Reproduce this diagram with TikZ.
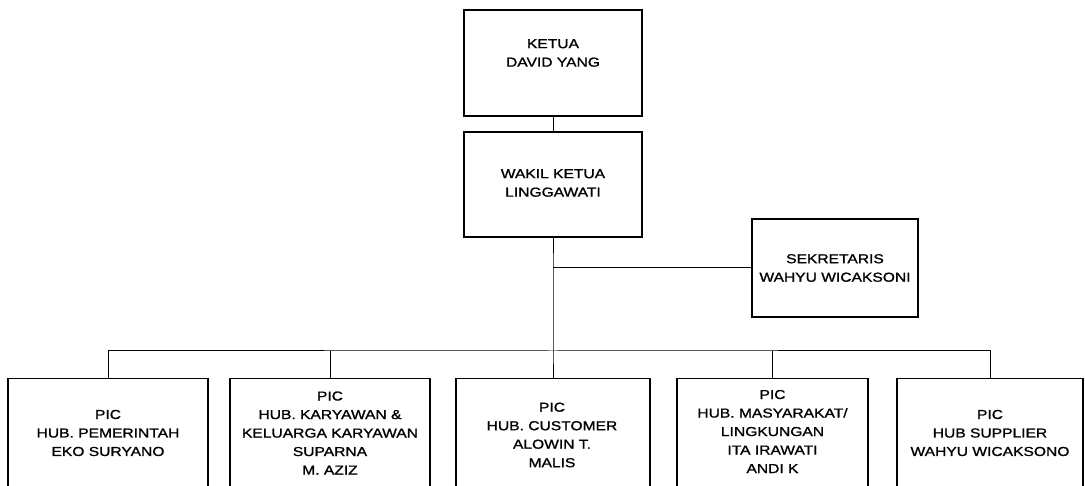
\documentclass[tikz,border=0pt]{standalone}
\usepackage{fontspec}
\newfontfamily\lab[FakeStretch=1.2,FakeBold=1.2]{Liberation Sans}
\begin{document}
\begin{tikzpicture}[x=1pt,y=-1pt,
  box/.style={draw=black, line width=1.1pt, rectangle, inner sep=0pt, fill=none},
  lbl/.style={align=center, inner sep=0pt, font=\lab\fontsize{13}{18.5}\selectfont},
  conn/.style={draw=black, line width=1pt}]
\useasboundingbox (0,0) rectangle (1085,486);
\fill[white] (0,0) rectangle (1085,486);
\clip (0,0) rectangle (1085,486);
% boxes
\node[box, minimum width=178pt, minimum height=106pt] (ketua) at (553,63) {};
\node[box, minimum width=178pt, minimum height=105pt] (wakil) at (553,184.5) {};
\node[box, minimum width=166pt, minimum height=98pt] (sek) at (835,268) {};
\node[box, minimum width=200pt, minimum height=150pt, anchor=north] (b1) at (108,378) {};
\node[box, minimum width=200pt, minimum height=150pt, anchor=north] (b2) at (330,378) {};
\node[box, minimum width=194pt, minimum height=150pt, anchor=north] (b3) at (553,378) {};
\node[box, minimum width=191pt, minimum height=150pt, anchor=north] (b4) at (772.5,378) {};
\node[box, minimum width=186pt, minimum height=150pt, anchor=north] (b5) at (990,378) {};
% labels
\node[lbl] (tketua) at (553,53) {KETUA\\DAVID YANG};
\node[lbl] (twakil) at (553,183) {WAKIL KETUA\\LINGGAWATI};
\node[lbl] (tsek) at (835,268) {SEKRETARIS\\WAHYU WICAKSONI};
\node[lbl] (tb1) at (108,433) {PIC\\HUB. PEMERINTAH\\EKO SURYANO};
\node[lbl] (tb2) at (330,433) {PIC\\HUB. KARYAWAN \&\\KELUARGA KARYAWAN\\SUPARNA\\M. AZIZ};
\node[lbl] (tb3) at (552,435) {PIC\\HUB. CUSTOMER\\ALOWIN T.\\MALIS};
\node[lbl] (tb4) at (772.5,431.5) {PIC\\HUB. MASYARAKAT/\\LINGKUNGAN\\ITA IRAWATI\\ANDI K};
\node[lbl] (tb5) at (990,433) {PIC\\HUB SUPPLIER\\WAHYU WICAKSONO};
% connectors
\coordinate (tee) at (553,268);
\coordinate (bus) at (553,351);
\draw[conn] (ketua.south) -- (wakil.north);
\draw[conn] (wakil.south) -- (tee) -- (bus) -- (b3.north);
\draw[conn] (tee) -- (sek.west);
\draw[conn] (b1.north) |- (bus) -| (b5.north);
\draw[conn] (b2.north) -- (b2.north |- bus);
\draw[conn] (b4.north) -- (b4.north |- bus);
\end{tikzpicture}
\end{document}
